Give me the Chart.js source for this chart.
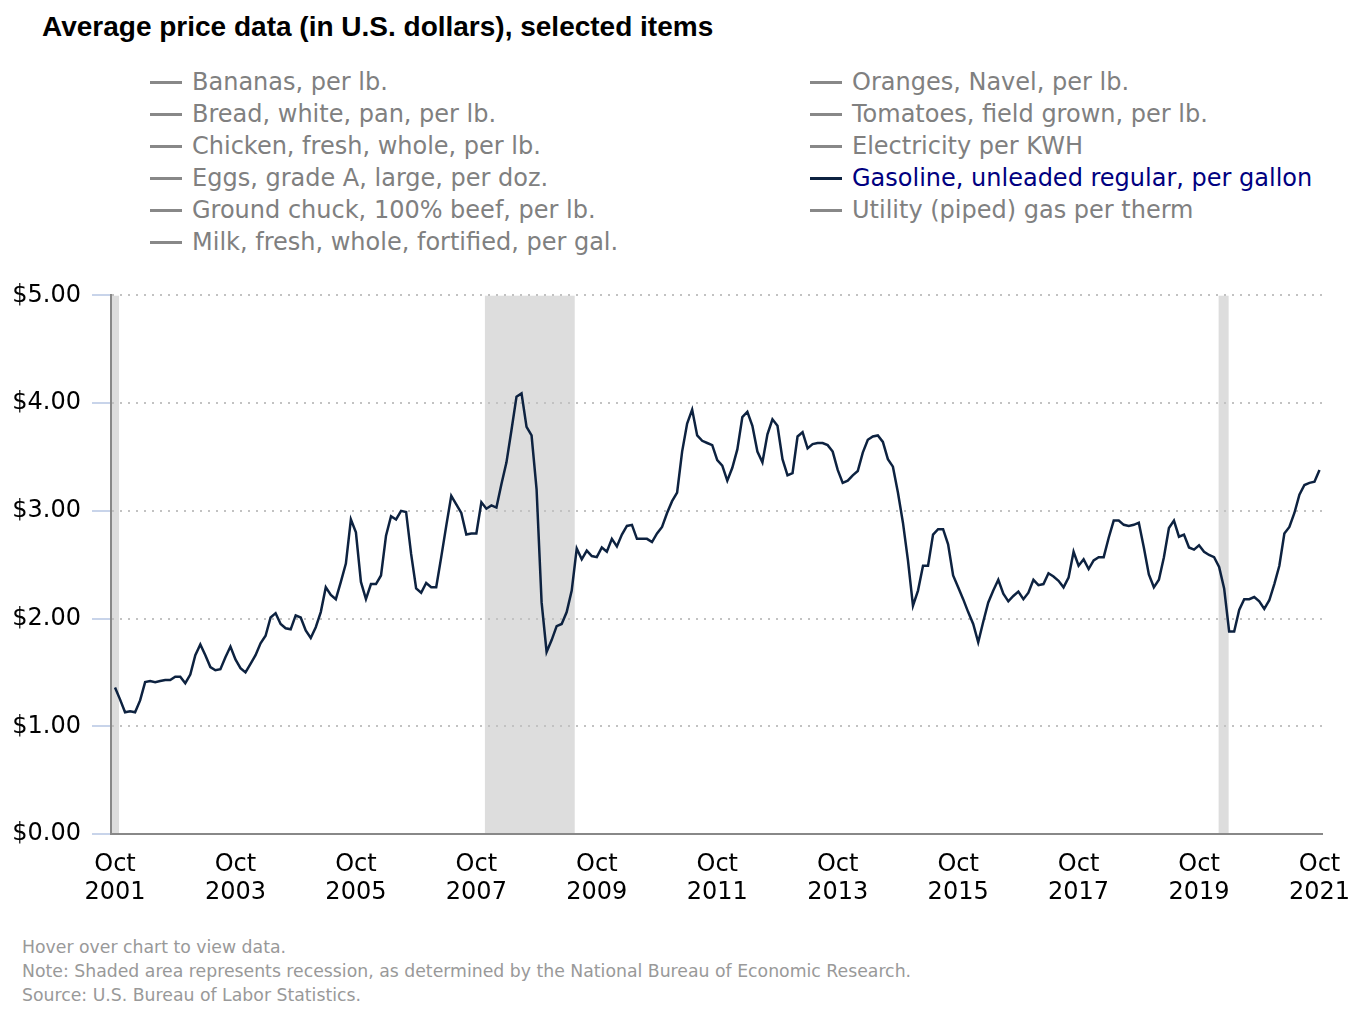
<!DOCTYPE html>
<html>
<head>
<meta charset="utf-8">
<title>Average price data</title>
<script src="https://cdn.jsdelivr.net/npm/chart.js@4/dist/chart.umd.min.js"></script>
<style>
  body { margin: 0; background: #fff; width: 1348px; height: 1026px; position: relative; overflow: hidden; }
  #title { position: absolute; left: 42px; top: 11px; font: bold 28px "Liberation Sans", Arial, sans-serif; color: #000; }
  #legend { position: absolute; left: 150px; top: 66px; display: grid; grid-auto-flow: column;
            grid-template-rows: repeat(6, 32px); grid-template-columns: 660px 520px;
            font: 24px "DejaVu Sans", sans-serif; }
  #legend div { display: flex; align-items: center; white-space: nowrap; height: 32px; }
  #legend span.mark { display: inline-block; width: 32px; height: 3px; margin-right: 10px; }
  #wrap { position: absolute; left: 0; top: 270px; width: 1348px; height: 650px; }
  #notes { position: absolute; left: 22px; top: 935px; font: 17.3px "DejaVu Sans", sans-serif; color: #999; line-height: 24px; }
</style>
</head>
<body>
<div id="title">Average price data (in U.S. dollars), selected items</div>
<div id="legend"></div>
<div id="wrap"><canvas id="lineChart"></canvas></div>
<div id="notes">
  <div>Hover over chart to view data.</div>
  <div>Note: Shaded area represents recession, as determined by the National Bureau of Economic Research.</div>
  <div>Source: U.S. Bureau of Labor Statistics.</div>
</div>
<script>
// legend items, gasoline is the one shown
const seriesNames = [
    "Bananas, per lb.",
    "Bread, white, pan, per lb.",
    "Chicken, fresh, whole, per lb.",
    "Eggs, grade A, large, per doz.",
    "Ground chuck, 100% beef, per lb.",
    "Milk, fresh, whole, fortified, per gal.",
    "Oranges, Navel, per lb.",
    "Tomatoes, field grown, per lb.",
    "Electricity per KWH",
    "Gasoline, unleaded regular, per gallon",
    "Utility (piped) gas per therm"
];
const selectedSeries = 9;

// monthly gasoline price, Oct 2001 .. Oct 2021
const gasolinePrices = [
    1.36, 1.25, 1.13,                                                   // 2001 Oct-Dec
    1.14, 1.13, 1.24, 1.41, 1.42, 1.41, 1.42, 1.43, 1.43, 1.46, 1.46, 1.40, // 2002
    1.48, 1.66, 1.76, 1.66, 1.55, 1.52, 1.53, 1.64, 1.74, 1.62, 1.54, 1.50, // 2003
    1.58, 1.66, 1.77, 1.84, 2.01, 2.05, 1.95, 1.91, 1.90, 2.03, 2.01, 1.89, // 2004
    1.82, 1.92, 2.06, 2.29, 2.22, 2.18, 2.34, 2.51, 2.92, 2.80, 2.34, 2.18, // 2005
    2.32, 2.32, 2.40, 2.77, 2.95, 2.92, 3.00, 2.99, 2.60, 2.28, 2.24, 2.33, // 2006
    2.29, 2.29, 2.57, 2.86, 3.14, 3.06, 2.98, 2.78, 2.79, 2.79, 3.08, 3.02, // 2007
    3.05, 3.03, 3.25, 3.45, 3.75, 4.06, 4.09, 3.78, 3.70, 3.20, 2.15, 1.69, // 2008
    1.80, 1.93, 1.95, 2.06, 2.26, 2.65, 2.55, 2.63, 2.58, 2.57, 2.66, 2.62, // 2009
    2.74, 2.67, 2.78, 2.86, 2.87, 2.74, 2.74, 2.74, 2.71, 2.79, 2.85, 2.98, // 2010
    3.09, 3.17, 3.55, 3.81, 3.94, 3.70, 3.65, 3.63, 3.61, 3.47, 3.42, 3.28, // 2011
    3.40, 3.57, 3.87, 3.92, 3.79, 3.55, 3.45, 3.71, 3.85, 3.79, 3.48, 3.33, // 2012
    3.35, 3.69, 3.73, 3.58, 3.62, 3.63, 3.63, 3.61, 3.55, 3.38, 3.26, 3.28, // 2013
    3.33, 3.37, 3.54, 3.66, 3.69, 3.70, 3.64, 3.48, 3.41, 3.17, 2.89, 2.54, // 2014
    2.12, 2.26, 2.49, 2.49, 2.78, 2.83, 2.83, 2.69, 2.40, 2.29, 2.18, 2.06, // 2015
    1.95, 1.78, 1.97, 2.15, 2.26, 2.36, 2.23, 2.16, 2.21, 2.25, 2.18, 2.24, // 2016
    2.36, 2.31, 2.32, 2.42, 2.39, 2.35, 2.29, 2.38, 2.62, 2.49, 2.55, 2.46, // 2017
    2.54, 2.57, 2.57, 2.75, 2.91, 2.91, 2.87, 2.86, 2.87, 2.89, 2.66, 2.41, // 2018
    2.29, 2.36, 2.57, 2.84, 2.91, 2.76, 2.78, 2.66, 2.64, 2.68, 2.62, 2.59, // 2019
    2.57, 2.48, 2.28, 1.88, 1.88, 2.08, 2.18, 2.18, 2.20, 2.16, 2.09, 2.17, // 2020
    2.32, 2.49, 2.79, 2.85, 2.98, 3.15, 3.24, 3.26, 3.27, 3.38              // 2021 Jan-Oct
];

// x tick labels, one every 24 months
const tickYears = ["2001", "2003", "2005", "2007", "2009", "2011", "2013", "2015", "2017", "2019", "2021"];

// recessions, as month index from Oct 2001
const recessions = [[-1, 0.8], [73.7, 91.6], [219.9, 221.9]];

const recessionShade = {
    id: "recessionShade",
    beforeDraw(chart) {
        const {ctx, chartArea, scales: {x}} = chart;
        ctx.save();
        ctx.beginPath();
        ctx.rect(chartArea.left, chartArea.top, chartArea.right - chartArea.left, chartArea.bottom - chartArea.top);
        ctx.clip();
        ctx.fillStyle = "#dddddd";
        recessions.forEach((r) => {
            const x1 = x.getPixelForValue(r[0]);
            const x2 = x.getPixelForValue(r[1]);
            ctx.fillRect(x1, chartArea.top, x2 - x1, chartArea.bottom - chartArea.top);
        });
        ctx.restore();
    }
};

const htmlLegend = {
    id: "htmlLegend",
    afterUpdate(chart) {
        const box = document.getElementById("legend");
        box.innerHTML = "";
        chart.data.datasets.forEach((ds, i) => {
            const on = chart.isDatasetVisible(i);
            const row = document.createElement("div");
            const mark = document.createElement("span");
            mark.className = "mark";
            mark.style.background = on ? "#0d2240" : "#888888";
            const txt = document.createElement("span");
            txt.textContent = ds.label;
            txt.style.color = on ? "#000080" : "#808080";
            row.appendChild(mark);
            row.appendChild(txt);
            box.appendChild(row);
        });
    }
};

const datasets = seriesNames.map((name, i) => ({
    label: name,
    data: i === selectedSeries ? gasolinePrices.map((v, k) => ({x: k, y: v})) : [],
    hidden: i !== selectedSeries,
    borderColor: "#0d2240",
    borderWidth: 2.5,
    pointRadius: 0,
    tension: 0,
    fill: false
}));

const tickFont = {family: "DejaVu Sans", size: 24};

const myChart = new Chart("lineChart", {
    type: "line",
    data: {datasets: datasets},
    plugins: [recessionShade, htmlLegend],
    options: {
        responsive: true,
        maintainAspectRatio: false,
        animation: false,
        layout: {padding: {top: 23, right: 26, left: 0, bottom: 0}},
        plugins: {
            legend: {display: false},
            title: {display: false}
        },
        scales: {
            x: {
                type: "linear",
                min: -0.8,
                max: 240.5,
                grid: {display: false},
                border: {display: true, color: "#888888", width: 2},
                afterBuildTicks: (scale) => {
                    scale.ticks = tickYears.map((_, k) => ({value: k * 24}));
                },
                afterFit: (scale) => {
                    // let the last label run off the edge like the original
                    scale.height = 86;
                    scale.paddingLeft = 0;
                    scale.paddingRight = 0;
                },
                ticks: {
                    autoSkip: false,
                    maxRotation: 0,
                    padding: 8,
                    color: "#000",
                    font: tickFont,
                    callback: (v) => ["Oct", tickYears[Math.round(v / 24)]]
                }
            },
            y: {
                min: 0,
                max: 5,
                grid: {
                    color: "#c2c2c2",
                    lineWidth: 2,
                    tickColor: "#c8d4ea",
                    tickLength: 19,
                    tickWidth: 2,
                    tickBorderDash: []
                },
                border: {display: true, color: "#888888", width: 2, dash: [2, 6]},
                afterFit: (scale) => {
                    scale.width = 111;
                },
                ticks: {
                    stepSize: 1,
                    padding: 11,
                    color: "#000",
                    font: tickFont,
                    callback: (v) => "$" + v.toFixed(2)
                }
            }
        }
    }
});
</script>
</body>
</html>
